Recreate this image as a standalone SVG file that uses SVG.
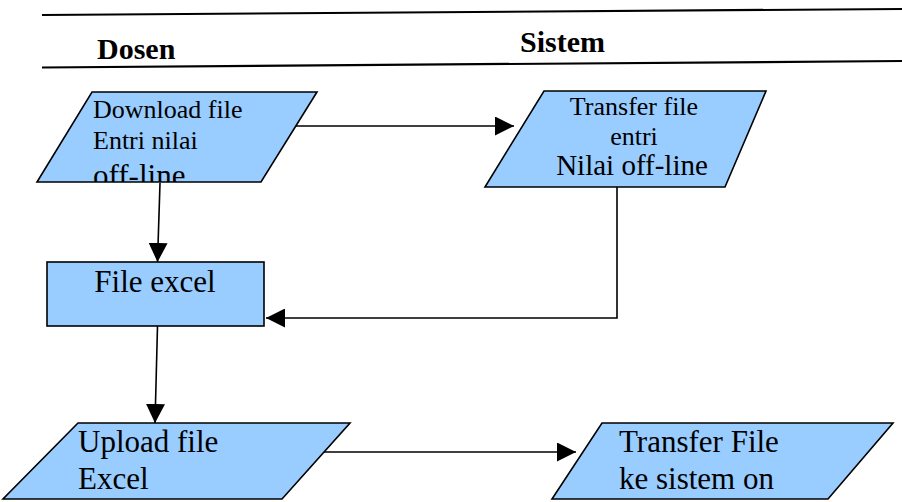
<svg xmlns="http://www.w3.org/2000/svg" width="902" height="502" viewBox="0 0 902 502">
<style>
.shape{fill:#99CCFF;stroke:#000;stroke-width:1.6}
.t{font-family:"Liberation Serif","Times New Roman",serif;fill:#000}
.h{font-family:"Liberation Serif","Times New Roman",serif;font-weight:bold;font-size:30px;fill:#000}
.ln{stroke:#000;stroke-width:1.6;fill:none}
.rule{stroke:#000;stroke-width:2.2}
</style>
<defs>
<marker id="ah" viewBox="0 0 10 10" refX="10" refY="5" markerUnits="userSpaceOnUse" markerWidth="19" markerHeight="19" orient="auto">
<path d="M0,0 L10,5 L0,10 Z" fill="#000"/>
</marker>
<clipPath id="c1"><polygon points="92,92 317,92 261,182 37,182"/></clipPath>
</defs>
<rect width="902" height="502" fill="#fff"/>
<g id="header">
<line class="rule" x1="42" y1="15" x2="902" y2="9"/>
<line class="rule" x1="42" y1="67.5" x2="902" y2="61"/>
<text class="h" x="97" y="59">Dosen</text>
<text class="h" x="520" y="52">Sistem</text>
</g>
<g id="connectors">
<line class="ln" x1="292" y1="126" x2="514" y2="126" marker-end="url(#ah)"/>
<line class="ln" x1="160" y1="183" x2="157.5" y2="262" marker-end="url(#ah)"/>
<polyline class="ln" points="617,187 617,318 266,318" marker-end="url(#ah)"/>
<line class="ln" x1="157.5" y1="326" x2="155" y2="423" marker-end="url(#ah)"/>
<line class="ln" x1="315" y1="452" x2="576" y2="452" marker-end="url(#ah)"/>
</g>
<g id="download">
<polygon class="shape" points="92,92 317,92 261,182 37,182"/>
<g clip-path="url(#c1)">
<text class="t" x="93" y="118" font-size="26">Download file</text>
<text class="t" x="93" y="149" font-size="26">Entri nilai</text>
<text class="t" x="93" y="186" font-size="31">off-line</text>
</g>
</g>
<g id="transfer1">
<polygon class="shape" points="544,91 766,91 725,187 485,187"/>
<text class="t" x="634" y="115" font-size="26" text-anchor="middle">Transfer file</text>
<text class="t" x="634" y="145" font-size="26" text-anchor="middle">entri</text>
<text class="t" x="632" y="175" font-size="29" text-anchor="middle">Nilai off-line</text>
</g>
<g id="fileexcel">
<rect class="shape" x="47" y="262" width="217" height="64"/>
<text class="t" x="155" y="292" font-size="31" text-anchor="middle">File excel</text>
</g>
<g id="upload">
<polygon class="shape" points="78,423 350,423 282,499 3,499"/>
<text class="t" x="78" y="452" font-size="31">Upload file</text>
<text class="t" x="78" y="489" font-size="31">Excel</text>
</g>
<g id="transfer2">
<polygon class="shape" points="602,423 893,423 828,499 552,499"/>
<text class="t" x="619" y="452" font-size="31">Transfer File</text>
<text class="t" x="619" y="489" font-size="31">ke sistem on</text>
</g>
</svg>
